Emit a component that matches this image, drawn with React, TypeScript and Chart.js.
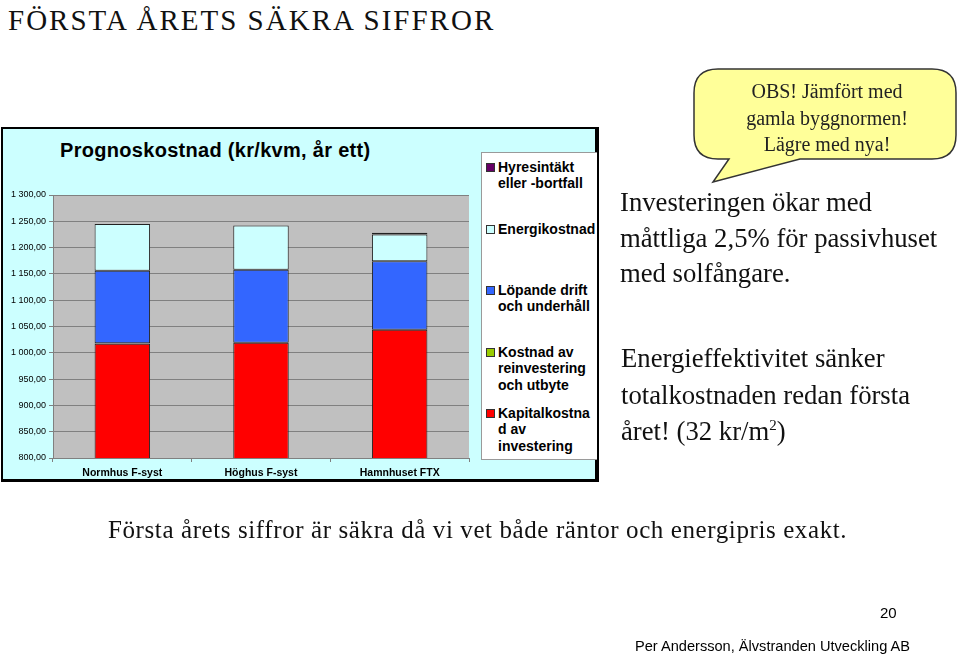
import React, { useEffect, useRef } from "react";
import { Chart, registerables } from "chart.js";

Chart.register(...registerables);

// ---- data ----
const categories = ["Normhus F-syst", "Höghus F-syst", "Hamnhuset FTX"];
const kapitalkostnad = [1017, 1019, 1044];
const reinvestering = [1, 0, 0];
const lopandeDrift = [138, 139, 130];
const energikostnad = [89, 84, 51];
const hyresintakt = [0, 0, 3];

const seriesNames = [
  "Kapitalkostnad av investering",
  "Kostnad av reinvestering och utbyte",
  "Löpande drift och underhåll",
  "Energikostnad",
  "Hyresintäkt eller -bortfall",
];
const seriesColors = ["#FF0000", "#99CC00", "#3366FF", "#CCFFFF", "#660066"];

// legend text (top to bottom, as wrapped in the original)
const legendLines = [
  ["Hyresintäkt", "eller -bortfall"],
  ["Energikostnad"],
  ["Löpande drift", "och underhåll"],
  ["Kostnad av", "reinvestering", "och utbyte"],
  ["Kapitalkostna", "d av", "investering"],
];
const legendColors = ["#660066", "#CCFFFF", "#3366FF", "#99CC00", "#FF0000"];

const yMin = 800;
const yMax = 1300;
const yStep = 50;

const chartTitle = "Prognoskostnad (kr/kvm, år ett)";

function fmt(v: number): string {
  const [i, d] = v.toFixed(2).split(".");
  const int = i.replace(/\B(?=(\d{3})+(?!\d))/g, " ");
  return int + "," + d;
}

const plotBg = {
  id: "plotBg",
  beforeDraw(chart: any) {
    const { ctx, chartArea } = chart;
    if (!chartArea) return;
    ctx.save();
    ctx.fillStyle = "#C0C0C0";
    ctx.fillRect(chartArea.left, chartArea.top, chartArea.right - chartArea.left, chartArea.bottom - chartArea.top);
    ctx.restore();
  },
};

function BarChart() {
  const ref = useRef<HTMLCanvasElement | null>(null);
  useEffect(() => {
    if (!ref.current) return;
    const values = [kapitalkostnad, reinvestering, lopandeDrift, energikostnad, hyresintakt];
    const chart = new Chart(ref.current, {
      type: "bar",
      data: {
        labels: categories,
        datasets: values.map((v, i) => ({
          label: seriesNames[i],
          data: v,
          backgroundColor: seriesColors[i],
          borderColor: "#222222",
          borderWidth: 1,
          borderSkipped: false,
          barPercentage: 0.4,
          categoryPercentage: 1,
        })),
      },
      options: {
        animation: false,
        responsive: false,
        layout: { padding: { top: 66, right: 10, left: 0, bottom: 0 } },
        plugins: {
          legend: { display: false },
          title: { display: false },
          tooltip: { enabled: false },
        },
        scales: {
          x: {
            stacked: true,
            offset: true,
            grid: {
              offset: true,
              drawOnChartArea: false,
              drawTicks: true,
              tickLength: 4,
              color: "#808080",
            },
            border: { display: true, color: "#808080" },
            ticks: {
              color: "#000",
              padding: 5,
              font: { family: "'Liberation Sans', Arial, sans-serif", size: 10.5, weight: "bold" },
            },
            afterFit: (s: any) => {
              s.height = 22;
            },
          },
          y: {
            stacked: true,
            min: yMin,
            max: yMax,
            ticks: {
              stepSize: yStep,
              color: "#000",
              padding: 3,
              font: { family: "'Liberation Sans', Arial, sans-serif", size: 9 },
              callback: (v: any) => fmt(Number(v)),
            },
            grid: { color: "#808080", lineWidth: 1, tickLength: 4 },
            border: { display: true, color: "#808080" },
            afterFit: (s: any) => {
              s.width = 50;
            },
          },
        },
      },
      plugins: [plotBg],
    });
    return () => chart.destroy();
  }, []);
  return (
    <canvas
      ref={ref}
      width={476}
      height={351}
      style={{ position: "absolute", left: 3, top: 129, width: 476, height: 351 }}
    />
  );
}

const serif = "'Liberation Serif', 'Times New Roman', serif";
const sans = "'Liberation Sans', Arial, sans-serif";

export default function App() {
  const legendTops = [167, 229, 290, 352, 413];
  return (
    <div
      style={{
        position: "absolute",
        left: 0,
        top: 0,
        width: 960,
        height: 657,
        overflow: "hidden",
        background: "#fff",
      }}
    >
      {/* page title */}
      <div
        style={{
          position: "absolute",
          left: 8,
          top: 2,
          fontFamily: serif,
          fontSize: 29,
          letterSpacing: 2,
          lineHeight: "36px",
          color: "#111",
          whiteSpace: "nowrap",
        }}
      >
        FÖRSTA ÅRETS SÄKRA SIFFROR
      </div>

      {/* chart frame */}
      <div
        style={{
          position: "absolute",
          left: 1,
          top: 127,
          width: 598,
          height: 355,
          boxSizing: "border-box",
          border: "2px solid #000",
          borderRightWidth: 4,
          borderBottomWidth: 3,
          background: "#CCFFFF",
        }}
      />
      <div
        style={{
          position: "absolute",
          left: 60,
          top: 138,
          fontFamily: sans,
          fontWeight: "bold",
          fontSize: 20,
          letterSpacing: 0.3,
          lineHeight: "24px",
          color: "#000",
          whiteSpace: "nowrap",
        }}
      >
        {chartTitle}
      </div>
      <BarChart />

      {/* legend */}
      <div
        style={{
          position: "absolute",
          left: 481,
          top: 152,
          width: 116,
          height: 308,
          boxSizing: "border-box",
          background: "#fff",
          border: "1px solid #9a9a9a",
          borderRight: "none",
        }}
      />
      {legendLines.map((lines, i) => (
        <div key={i}>
          <div
            style={{
              position: "absolute",
              left: 486,
              top: legendTops[i] - 4,
              width: 7,
              height: 7,
              background: legendColors[i],
              border: "1px solid #333",
            }}
          />
          <div
            style={{
              position: "absolute",
              left: 498,
              top: legendTops[i] - 8.5,
              fontFamily: sans,
              fontWeight: "bold",
              fontSize: 14,
              lineHeight: "16.5px",
              color: "#000",
              whiteSpace: "nowrap",
            }}
          >
            {lines.map((l, j) => (
              <div key={j}>{l}</div>
            ))}
          </div>
        </div>
      ))}

      {/* callout bubble */}
      <svg
        width={960}
        height={657}
        style={{ position: "absolute", left: 0, top: 0, pointerEvents: "none" }}
      >
        <path
          d="M 718 69 H 932 Q 956 69 956 93 V 135 Q 956 159 932 159 H 800 L 713 182 L 729 159 H 718 Q 694 159 694 135 V 93 Q 694 69 718 69 Z"
          fill="#FFFF99"
          stroke="#333"
          strokeWidth={1.5}
        />
      </svg>
      <div
        style={{
          position: "absolute",
          left: 696,
          top: 78,
          width: 262,
          textAlign: "center",
          fontFamily: serif,
          fontSize: 20,
          lineHeight: "26.5px",
          color: "#222",
        }}
      >
        <div>OBS! Jämfört med</div>
        <div>gamla byggnormen!</div>
        <div>Lägre med nya!</div>
      </div>

      {/* right-hand text */}
      <div
        style={{
          position: "absolute",
          left: 620,
          top: 185,
          fontFamily: serif,
          fontSize: 26.7,
          lineHeight: "35.5px",
          color: "#111",
          whiteSpace: "nowrap",
        }}
      >
        <div>Investeringen ökar med</div>
        <div>måttliga 2,5% för passivhuset</div>
        <div>med solfångare.</div>
      </div>
      <div
        style={{
          position: "absolute",
          left: 621,
          top: 340,
          fontFamily: serif,
          fontSize: 26.7,
          lineHeight: "36.5px",
          color: "#111",
          whiteSpace: "nowrap",
        }}
      >
        <div>Energieffektivitet sänker</div>
        <div>totalkostnaden redan första</div>
        <div>
          året! (32 kr/m<sup style={{ fontSize: 15, verticalAlign: "top", lineHeight: "24px" }}>2</sup>)
        </div>
      </div>

      {/* bottom line */}
      <div
        style={{
          position: "absolute",
          left: 108,
          top: 514,
          fontFamily: serif,
          fontSize: 25,
          letterSpacing: 0.6,
          lineHeight: "32px",
          color: "#111",
          whiteSpace: "nowrap",
        }}
      >
        Första årets siffror är säkra då vi vet både räntor och energipris exakt.
      </div>

      <div
        style={{
          position: "absolute",
          left: 880,
          top: 604,
          fontFamily: sans,
          fontSize: 15,
          lineHeight: "18px",
          color: "#000",
        }}
      >
        20
      </div>
      <div
        style={{
          position: "absolute",
          left: 635,
          top: 637,
          fontFamily: sans,
          fontSize: 14.6,
          lineHeight: "18px",
          color: "#000",
          whiteSpace: "nowrap",
        }}
      >
        Per Andersson, Älvstranden Utveckling AB
      </div>
    </div>
  );
}
